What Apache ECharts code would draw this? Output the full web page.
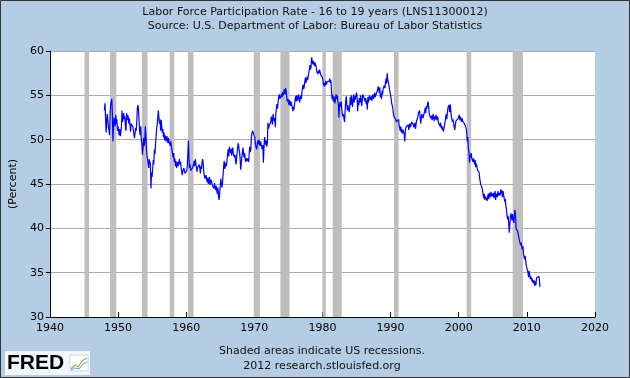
<!DOCTYPE html>
<html><head><meta charset="utf-8">
<script src="https://cdn.jsdelivr.net/npm/echarts@6/dist/echarts.min.js"></script>
<style>html,body{margin:0;padding:0;background:#B4CDE4}#c{width:630px;height:378px}</style>
</head><body><div id="c"></div>
<script>
// Monthly teen labor force participation rate (%), Jan 1948 - Dec 2011
const startYear = 1948;
const lfpr1948_1959 = [
53.3,54.1,54.0,50.8,52.0,52.9,52.2,51.4,51.1,50.5,52.8,53.9,
54.3,54.6,53.0,49.8,51.5,52.5,52.0,51.5,52.8,51.8,52.3,51.0,
51.5,51.0,50.5,51.2,50.4,50.8,51.5,53.3,52.0,52.5,53.0,52.3,
52.6,51.5,51.0,53.0,52.2,52.8,52.5,51.8,52.4,51.7,50.9,51.8,
51.8,52.0,51.5,51.6,50.6,50.2,50.0,51.3,51.0,52.0,53.5,53.9,
53.5,52.2,51.0,50.5,51.5,50.0,49.5,48.3,49.0,50.2,49.3,49.6,
51.5,50.5,49.0,48.2,47.8,47.3,46.8,47.8,48.0,47.2,44.5,46.3,
45.8,46.7,47.7,47.2,48.9,48.4,49.5,50.3,51.2,51.8,52.5,53.3,
52.5,51.8,52.3,51.0,52.2,51.5,50.8,51.2,50.3,50.8,49.9,50.5,
50.3,49.8,50.4,50.0,49.6,50.2,49.7,49.5,49.3,49.8,49.2,48.8,
48.8,48.0,48.5,47.5,47.9,47.0,47.6,46.8,47.2,47.5,47.0,47.4,
47.8,47.2,47.5,46.9,46.5,46.0,46.4,46.2,46.8,46.5,46.2,46.4];
const lfpr1960s = [
46.3,46.5,47.0,46.8,49.9,47.8,46.8,47.2,46.5,46.7,46.5,46.8,
46.6,47.2,47.6,47.0,47.8,47.9,46.9,46.4,46.8,47.0,46.7,47.2,
46.8,46.2,47.0,46.7,47.5,47.8,47.3,46.3,46.0,45.6,45.8,46.0,
45.5,45.2,45.7,45.0,45.4,45.8,44.9,45.2,45.5,45.3,44.9,45.1,
45.0,44.5,45.1,44.6,44.3,44.8,44.2,43.9,44.6,43.6,43.2,43.9,
44.8,45.6,45.0,44.6,45.1,45.3,47.0,47.6,46.7,46.9,47.4,47.0,
47.7,48.3,48.9,48.1,49.2,48.8,48.5,49.0,48.2,48.7,49.1,48.4,
48.6,48.0,48.3,47.6,47.2,48.1,48.7,49.3,49.6,49.0,48.6,47.9,
46.6,47.3,48.0,48.6,49.1,48.4,48.0,48.5,47.8,47.5,47.9,47.6,
47.7,47.9,47.5,48.4,49.2,48.6,49.0,50.5,50.7,51.0,50.8,50.6];
const lfpr1970s = [
50.4,50.2,49.5,49.2,48.9,49.3,49.9,49.5,50.0,49.6,49.3,49.8,
49.6,49.2,48.9,49.4,47.4,49.0,50.3,49.8,49.4,49.9,49.2,49.7,
51.9,51.2,51.6,51.4,51.8,52.0,52.6,52.2,51.7,52.9,52.5,52.1,
52.4,51.4,53.0,53.6,54.0,53.5,54.3,54.8,55.1,54.6,54.4,54.9,
55.2,54.8,55.4,55.0,55.3,55.7,55.1,55.8,55.5,54.9,54.3,54.6,
54.2,53.9,54.5,54.1,53.8,54.3,53.9,53.6,53.2,53.7,53.4,54.1,
54.6,54.9,54.3,55.0,54.4,54.8,55.1,54.5,54.2,54.7,55.0,54.6,
55.4,55.9,56.2,55.7,56.0,56.6,57.0,56.4,56.8,57.1,56.7,57.2,
57.6,58.0,58.4,57.9,58.3,59.3,58.8,58.5,58.9,58.6,58.3,58.7,
58.5,58.2,57.7,57.9,57.4,57.8,57.5,57.9,57.6,57.3,57.5,57.2];
const lfpr1980s = [
57.0,56.6,56.1,56.4,56.0,56.3,56.6,56.2,56.5,56.7,56.3,56.5,
56.6,56.9,56.4,56.7,55.4,54.6,55.1,54.3,54.9,54.5,54.1,54.6,
55.1,54.6,55.0,54.4,54.0,52.5,53.9,54.2,53.7,54.3,53.4,52.9,
52.6,52.9,52.3,52.0,53.4,54.4,54.9,53.8,53.3,53.9,53.5,53.1,
53.6,54.8,53.9,55.0,54.3,53.7,54.6,55.1,54.2,54.9,54.5,55.0,
55.3,54.8,53.2,54.4,53.9,54.7,54.2,55.0,54.6,53.8,54.3,55.1,
55.3,54.9,54.6,54.3,54.7,54.0,54.4,53.4,54.8,54.2,54.6,55.0,
55.2,54.5,54.9,54.4,54.7,55.1,54.6,54.9,55.3,54.8,55.0,54.6,
54.9,55.6,56.0,55.7,55.3,55.9,54.8,55.2,54.6,55.5,55.1,55.8,
55.6,56.1,55.8,56.5,56.9,56.3,57.5,56.8,57.0,56.2,55.7,55.4];
const lfpr1990s = [
55.0,54.6,54.1,53.8,53.5,52.9,52.6,52.4,52.7,52.3,52.0,51.8,
52.2,51.9,52.3,51.6,51.3,51.0,51.5,50.8,51.2,50.7,51.1,50.9,
50.6,49.8,51.0,51.4,51.2,51.6,51.3,51.7,51.1,51.5,51.8,51.4,
51.5,52.0,51.8,52.1,51.7,51.4,51.6,51.9,51.2,51.8,52.2,52.0,
52.5,53.0,52.8,53.3,52.6,51.8,52.4,52.9,53.1,52.4,52.7,52.5,
53.2,53.6,53.0,53.8,53.5,54.0,54.3,53.8,53.0,52.7,52.9,52.4,
52.7,52.2,52.5,52.9,52.4,52.1,52.6,52.3,52.8,52.5,52.2,52.6,
52.0,52.1,51.8,51.5,51.9,51.3,51.6,51.1,51.4,50.9,51.3,51.6,
52.0,52.5,52.9,52.3,53.0,53.6,53.4,53.9,53.1,54.0,53.3,52.6,
52.4,52.0,52.3,51.8,51.4,51.1,51.6,52.1,51.9,52.3,52.0,52.4];
const lfpr2000s = [
52.5,52.8,52.2,52.6,52.3,52.0,52.4,52.1,51.9,52.2,51.8,52.0,
51.8,51.3,50.9,49.8,50.3,49.0,48.6,47.4,48.3,48.0,48.5,47.9,
47.8,47.5,47.9,47.6,47.2,47.7,46.9,47.3,47.0,46.6,46.8,46.4,
46.3,45.6,45.2,44.9,45.1,44.6,44.2,43.8,43.4,43.9,43.2,43.6,
43.4,43.8,43.1,43.6,43.9,43.3,44.0,43.5,43.8,44.1,43.6,43.9,
43.6,44.0,43.4,43.8,44.2,43.2,43.9,44.1,43.5,44.2,43.7,44.0,
44.1,43.7,44.4,43.9,44.3,43.5,44.2,43.8,43.4,43.0,43.3,42.5,
42.2,41.5,41.0,41.4,40.6,39.5,40.3,41.2,41.7,41.3,40.9,41.6,
41.0,40.6,41.3,42.1,41.5,40.0,39.8,40.2,39.6,39.3,38.9,38.6,
38.5,38.1,38.4,37.9,37.6,38.0,37.2,36.8,36.5,36.9,36.3,35.8];
const lfpr2010s = [
36.0,35.6,35.0,34.5,35.2,34.8,34.3,34.6,34.1,34.4,33.9,34.2,
33.8,34.1,33.5,34.0,33.6,34.4,34.6,34.6,34.5,34.6,34.3,33.4];

// US recessions (decimal years: start, end)
const recessions = [
[1945.08,1945.75],[1948.83,1949.75],[1953.5,1954.33],[1957.58,1958.25],
[1960.25,1961.08],[1969.92,1970.83],[1973.83,1975.17],[1980.0,1980.5],
[1981.5,1982.83],[1990.5,1991.17],[2001.17,2001.83],[2007.92,2009.42]];

const xRange = [1940, 2020, 10];
const yRange = [30, 60, 5];
const titleLines = ['Labor Force Participation Rate - 16 to 19 years (LNS11300012)',
                    'Source: U.S. Department of Labor: Bureau of Labor Statistics'];
const footLines = ['Shaded areas indicate US recessions.', '2012 research.stlouisfed.org'];

const lfpr = [].concat(lfpr1948_1959, lfpr1960s, lfpr1970s, lfpr1980s, lfpr1990s, lfpr2000s, lfpr2010s);
const seriesData = lfpr.map((v, i) => [startYear + i / 12, v]);

const FONT = 'DejaVu Sans';
const TXT = '11px "DejaVu Sans"';
const chart = echarts.init(document.getElementById('c'), null, {renderer: 'canvas'});
chart.setOption({
  animation: false,
  backgroundColor: '#B4CDE4',
  grid: {left: 47, right: 35, top: 51, bottom: 61, show: true, backgroundColor: '#FFFFFF', borderWidth: 0},
  xAxis: {
    type: 'value', min: xRange[0], max: xRange[1], interval: xRange[2],
    axisLine: {show: true, onZero: false, lineStyle: {color: '#000', width: 1}},
    axisTick: {show: true, inside: true, length: 5, lineStyle: {color: '#000'}},
    axisLabel: {color: '#000', fontFamily: FONT, fontSize: 11, margin: 6, formatter: v => String(v)},
    splitLine: {show: false}
  },
  yAxis: {
    type: 'value', min: yRange[0], max: yRange[1], interval: yRange[2],
    name: '(Percent)', nameLocation: 'middle', nameGap: 30, nameRotate: 90,
    nameTextStyle: {color: '#000', fontFamily: FONT, fontSize: 11},
    axisLine: {show: true, lineStyle: {color: '#000', width: 1}},
    axisTick: {show: true, inside: false, length: 4, lineStyle: {color: '#000'}},
    axisLabel: {color: '#000', fontFamily: FONT, fontSize: 11, margin: 6},
    splitLine: {show: true, lineStyle: {color: '#AAAAAA', width: 1}}
  },
  series: [{
    type: 'line', data: seriesData, showSymbol: false, symbol: 'none',
    lineStyle: {color: '#0000FF', width: 1.2}, z: 5,
    markArea: {
      silent: true,
      itemStyle: {color: '#BEBEBE', opacity: 1},
      data: recessions.map(r => [{xAxis: r[0]}, {xAxis: r[1]}])
    }
  }],
  graphic: [
    {type: 'rect', shape: {x: 0.5, y: 0.5, width: 629, height: 377}, style: {fill: 'none', stroke: '#333', lineWidth: 1}, z: 100},
    {type: 'text', x: 315, y: 12, style: {text: titleLines[0], fill: '#111', font: TXT, textAlign: 'center', textVerticalAlign: 'middle'}},
    {type: 'text', x: 315, y: 26, style: {text: titleLines[1], fill: '#111', font: TXT, textAlign: 'center', textVerticalAlign: 'middle'}},
    {type: 'text', x: 322, y: 351, style: {text: footLines[0], fill: '#111', font: TXT, textAlign: 'center', textVerticalAlign: 'middle'}},
    {type: 'text', x: 322, y: 366, style: {text: footLines[1], fill: '#111', font: TXT, textAlign: 'center', textVerticalAlign: 'middle'}},
    {type: 'rect', shape: {x: 5, y: 351, width: 85, height: 24}, style: {fill: '#F2F6FA'}},
    {type: 'text', x: 7, y: 363, style: {text: 'FRED', fill: '#000', font: 'bold 21px "Liberation Sans"', textVerticalAlign: 'middle'}},
    {type: 'rect', shape: {x: 70, y: 355, width: 18, height: 16}, style: {fill: '#FFFFFF', stroke: '#C8D8E8', lineWidth: 1}},
    {type: 'polyline', shape: {points: [[71, 369], [75, 365], [78, 367], [82, 361], [87, 358]]}, style: {stroke: '#88BB66', lineWidth: 1.2, fill: 'none'}},
    {type: 'polyline', shape: {points: [[71, 370], [75, 368], [79, 369], [83, 364], [87, 362]]}, style: {stroke: '#6699CC', lineWidth: 1, fill: 'none'}}
  ]
});
</script>
</body></html>
